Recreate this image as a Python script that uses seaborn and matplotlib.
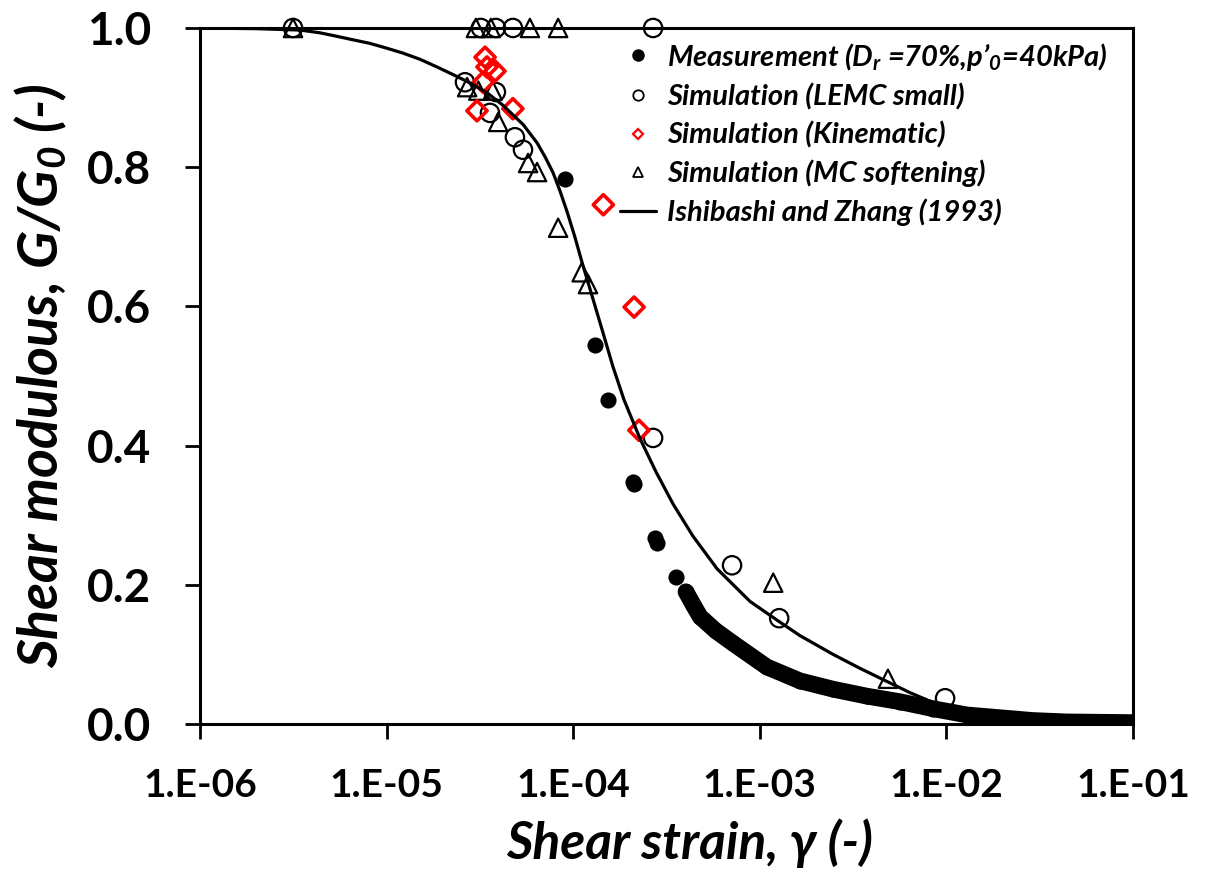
import matplotlib
matplotlib.use("Agg")
import matplotlib.pyplot as plt
from matplotlib.lines import Line2D
import seaborn as sns

# ---------------- datos ----------------
# Measurement (puntos sueltos)
meas_strain = [9.0e-5, 1.31e-4, 1.54e-4, 2.09e-4, 2.11e-4, 2.74e-4, 2.80e-4, 3.56e-4]
meas_ratio = [0.783, 0.545, 0.466, 0.348, 0.345, 0.267, 0.260, 0.211]
# Measurement (tramo denso, muchos puntos solapados)
tail_strain = [4.02e-4, 4.4e-4, 4.79e-4, 5.8e-4, 7.18e-4, 1.09e-3, 1.64e-3, 2.47e-3, 3.75e-3,
               5.64e-3, 8.47e-3, 1.29e-2, 1.94e-2, 2.91e-2, 4.42e-2, 1.0e-1]
tail_ratio = [0.190, 0.171, 0.154, 0.134, 0.116, 0.082, 0.062, 0.050, 0.040,
              0.032, 0.022, 0.013, 0.009, 0.005, 0.003, 0.002]

# Simulation (LEMC small)
lemc_strain = [3.15e-6, 3.2e-5, 3.85e-5, 4.75e-5, 2.68e-4,
               2.63e-5, 3.85e-5, 3.58e-5, 4.87e-5, 5.38e-5,
               2.68e-4, 7.1e-4, 1.27e-3, 9.84e-3]
lemc_ratio = [1.0, 1.0, 1.0, 1.0, 1.0,
              0.922, 0.908, 0.878, 0.843, 0.825,
              0.411, 0.228, 0.152, 0.037]

# Simulation (Kinematic)
kin_strain = [3.37e-5, 3.45e-5, 3.81e-5, 3.29e-5, 3.05e-5, 4.75e-5, 1.45e-4, 2.12e-4, 2.25e-4]
kin_ratio = [0.958, 0.944, 0.938, 0.922, 0.881, 0.884, 0.746, 0.599, 0.422]

# Simulation (MC softening)
mc_strain = [3.15e-6, 3.01e-5, 3.62e-5, 5.86e-5, 8.3e-5,
             2.7e-5, 3.1e-5, 3.7e-5, 3.96e-5, 5.73e-5, 6.4e-5,
             8.3e-5, 1.11e-4, 1.2e-4, 1.18e-3, 4.86e-3]
mc_ratio = [1.0, 1.0, 1.0, 1.0, 1.0,
            0.915, 0.91, 0.91, 0.865, 0.806, 0.793,
            0.713, 0.649, 0.632, 0.203, 0.065]

# Ishibashi and Zhang (1993), leida punto a punto sobre la curva
iz_strain = [1e-6, 2e-6, 3.44e-6, 4.4e-6, 5.42e-6, 6.6e-6, 8.1e-6, 1.0e-5, 1.22e-5,
             1.51e-5, 1.86e-5, 2.27e-5, 2.8e-5, 3.45e-5, 4.2e-5, 5.4e-5, 6.4e-5,
             7.06e-5, 7.8e-5, 8.49e-5, 9.27e-5, 1.02e-4, 1.11e-4, 1.23e-4, 1.43e-4,
             1.63e-4, 1.87e-4, 2.28e-4, 2.78e-4, 3.43e-4, 4.38e-4, 5.9e-4, 8.87e-4,
             1.24e-3, 1.64e-3, 2.47e-3, 3.44e-3, 4.81e-3, 6.38e-3, 8.47e-3, 1.08e-2,
             1.94e-2, 3.18e-2, 1.0e-1]
iz_ratio = [1.0, 0.999, 0.997, 0.993, 0.988, 0.983, 0.978, 0.971, 0.964,
            0.955, 0.944, 0.933, 0.921, 0.907, 0.889, 0.861, 0.835,
            0.815, 0.792, 0.766, 0.736, 0.700, 0.665, 0.625, 0.566,
            0.514, 0.466, 0.410, 0.362, 0.316, 0.270, 0.223, 0.176,
            0.149, 0.127, 0.100, 0.080, 0.061, 0.045, 0.031, 0.022,
            0.012, 0.008, 0.003]

xticks = [1e-6, 1e-5, 1e-4, 1e-3, 1e-2, 1e-1]
xtick_labels = ["1.E-06", "1.E-05", "1.E-04", "1.E-03", "1.E-02", "1.E-01"]
yticks = [0.0, 0.2, 0.4, 0.6, 0.8, 1.0]
ytick_labels = ["0.0", "0.2", "0.4", "0.6", "0.8", "1.0"]

meas_label = "Measurement (D$_r$ =70%,p’$_0$=40kPa)"
lemc_label = "Simulation (LEMC small)"
kin_label = "Simulation (Kinematic)"
mc_label = "Simulation (MC softening)"
iz_label = "Ishibashi and Zhang (1993)"

# ---------------- estilo ----------------
sns.set_style("ticks")
plt.rcParams["mathtext.fontset"] = "custom"
plt.rcParams["mathtext.rm"] = "Lato:italic:bold"
plt.rcParams["mathtext.it"] = "Lato:italic:bold"
plt.rcParams["text.color"] = "black"
plt.rcParams["axes.labelcolor"] = "black"
plt.rcParams["xtick.color"] = "black"
plt.rcParams["ytick.color"] = "black"
fam = ["Lato", "DejaVu Sans"]

fig = plt.figure(figsize=(12.08, 8.88), dpi=100)
ax = fig.add_axes([0.1656, 0.1847, 0.9379 - 0.1656, 0.9685 - 0.1847])

# tramo denso de mediciones (linea gruesa = puntos solapados)
sns.lineplot(x=tail_strain, y=tail_ratio, color="black", linewidth=12,
             solid_capstyle="round", sort=False, estimator=None, legend=False, ax=ax)

sns.scatterplot(x=lemc_strain, y=lemc_ratio, marker="o", s=175, facecolors="none",
                edgecolors="black", linewidths=1.6, ax=ax, zorder=3, clip_on=False)
sns.scatterplot(x=mc_strain, y=mc_ratio, marker="^", s=175, facecolors="none",
                edgecolors="black", linewidths=1.6, ax=ax, zorder=3, clip_on=False)
sns.scatterplot(x=kin_strain, y=kin_ratio, marker="D", s=105, facecolors="none",
                edgecolors="red", linewidths=2.6, ax=ax, zorder=3, clip_on=False)
sns.scatterplot(x=meas_strain + tail_strain, y=meas_ratio + tail_ratio, marker="o", s=135,
                color="black", edgecolor="black", linewidth=0, ax=ax, zorder=4)
sns.lineplot(x=iz_strain, y=iz_ratio, color="black", linewidth=2.3, sort=False,
             estimator=None, ax=ax, zorder=5)

ax.set_xscale("log")
ax.set_xlim(1e-6, 1e-1)
ax.set_ylim(0, 1.0)
ax.set_xticks(xticks)
ax.set_xticklabels(xtick_labels)
ax.minorticks_off()
ax.set_yticks(yticks)
ax.set_yticklabels(ytick_labels)
for lab in ax.get_xticklabels():
    lab.set_fontfamily(fam)
    lab.set_fontweight("bold")
    lab.set_fontsize(28)
    lab.set_color("black")
for lab in ax.get_yticklabels():
    lab.set_fontfamily(fam)
    lab.set_fontweight("bold")
    lab.set_fontsize(33)
    lab.set_color("black")
ax.tick_params(axis="both", direction="out", length=11, width=2, color="black")
ax.tick_params(axis="x", pad=21)
ax.tick_params(axis="y", pad=24)
for sp in ax.spines.values():
    sp.set_linewidth(2.2)
    sp.set_color("black")

ax.set_xlabel("Shear strain, γ (-)", fontsize=37, family=fam, style="italic",
              weight="bold", color="black")
ax.set_ylabel("Shear modulous, G/G$_0$ (-)", fontsize=40, family=fam, style="italic",
              weight="bold", color="black")
ax.xaxis.set_label_coords(0.525, -0.135)
ax.yaxis.set_label_coords(-0.14, 0.5)

# leyenda con marcadores pequenos, como en el original
handles = [
    Line2D([], [], ls="none", marker="o", ms=8, mfc="black", mec="black"),
    Line2D([], [], ls="none", marker="o", ms=7.5, mfc="none", mec="black", mew=1.3),
    Line2D([], [], ls="none", marker="D", ms=5.5, mfc="none", mec="red", mew=1.6),
    Line2D([], [], ls="none", marker="^", ms=7, mfc="none", mec="black", mew=1.3),
    Line2D([], [], color="black", lw=2.3),
]
ax.legend(handles, [meas_label, lemc_label, kin_label, mc_label, iz_label],
          loc="upper left", bbox_to_anchor=(0.45, 0.982), frameon=False,
          handlelength=1.25, handletextpad=0.38, labelspacing=0.38,
          borderpad=0, borderaxespad=0,
          prop=dict(family=fam, style="italic", weight="bold", size=21))

fig.savefig("out.png", dpi=100)
